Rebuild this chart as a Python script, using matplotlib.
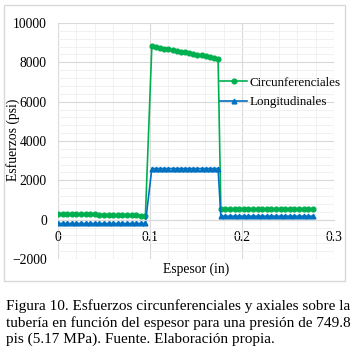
import matplotlib.pyplot as plt
from matplotlib.patches import Rectangle
from matplotlib.ticker import MultipleLocator

plt.rcParams['font.family'] = 'serif'
plt.rcParams['font.serif'] = ['Liberation Serif', 'DejaVu Serif']

# Espesor (in)
x_data = [0.000, 0.005, 0.010, 0.015, 0.020, 0.025, 0.030, 0.035, 0.040, 0.045,
          0.050, 0.055, 0.060, 0.065, 0.070, 0.075, 0.080, 0.085, 0.090, 0.095,
          0.1020, 0.1065, 0.1110, 0.1155, 0.1200, 0.1245, 0.1290, 0.1335, 0.1380,
          0.1425, 0.1470, 0.1515, 0.1560, 0.1605, 0.1650, 0.1695, 0.1740,
          0.177, 0.182, 0.187, 0.192, 0.197, 0.202, 0.207, 0.212, 0.217, 0.222,
          0.227, 0.232, 0.237, 0.242, 0.247, 0.252, 0.257, 0.262, 0.267, 0.272, 0.277]

circ = [310, 300, 295, 290, 285, 280, 275, 270, 265, 260,
        255, 250, 245, 240, 235, 230, 225, 215, 205, 200,
        8820, 8780, 8740, 8700, 8660, 8620, 8590, 8550, 8510,
        8470, 8430, 8390, 8350, 8310, 8270, 8230, 8190,
        560, 558, 556, 554, 552, 550, 548, 546, 544, 542,
        540, 538, 536, 534, 532, 530, 528, 526, 524, 522, 520]

longi = [-190] * 20 + [2600] * 17 + [180] * 21

fig = plt.figure(figsize=(3.56, 3.55), dpi=100)
fig.patches.append(Rectangle((4 / 356, 1 - 281 / 355), 341 / 356, 276 / 355,
                             transform=fig.transFigure, fill=False,
                             edgecolor='#d9d9d9', linewidth=1))

ax = fig.add_axes([58 / 356, 1 - 259 / 355, 276 / 356, 236 / 355])
ax.plot(x_data, circ, color='#00b050', marker='o', markersize=3.4,
        linewidth=1.2, label='Circunferenciales')
ax.plot(x_data, longi, color='#0070c0', marker='^', markersize=3.4,
        linewidth=1.2, label='Longitudinales')

ax.set_xlim(0, 0.3)
ax.set_ylim(-2000, 10000)
ax.xaxis.set_minor_locator(MultipleLocator(0.02))
ax.yaxis.set_major_locator(MultipleLocator(2000))
ax.yaxis.set_minor_locator(MultipleLocator(400))
ax.set_xticks([0, 0.1, 0.2, 0.3], ['0', '0.1', '0.2', '0.3'])
ax.grid(which='major', color='#d9d9d9', linewidth=0.8)
ax.grid(which='minor', color='#efefef', linewidth=0.6)
ax.set_axisbelow(True)

for s in ['top', 'right', 'left']:
    ax.spines[s].set_visible(False)
ax.spines['bottom'].set_position(('data', 0))
ax.spines['bottom'].set_color('#d9d9d9')
ax.tick_params(which='both', length=0, labelsize=9.8)
ax.tick_params(axis='y', pad=8)
ax.tick_params(axis='x', pad=8)

fig.text(196 / 356, 1 - 269 / 355, 'Espesor (in)', ha='center', va='center', fontsize=9.8)
fig.text(13 / 356, 1 - 140 / 355, 'Esfuerzos (psi)', ha='center', va='center',
         rotation=90, fontsize=9.8)

ax.legend(loc='upper left', bbox_to_anchor=(0.565, 0.80), frameon=False,
          fontsize=9.4, handlelength=2.0, handletextpad=0.25, labelspacing=0.55,
          borderpad=0)

caption = ('Figura 10. Esfuerzos circunferenciales y axiales sobre la\n'
           'tubería en función del espesor para una presión de 749.8\n'
           'pis (5.17 MPa). Fuente. Elaboración propia.')
fig.text(6 / 356, 1 - 299 / 355, caption, ha='left', va='top', fontsize=11,
         linespacing=1.3)

fig.savefig('out.png', dpi=100)
